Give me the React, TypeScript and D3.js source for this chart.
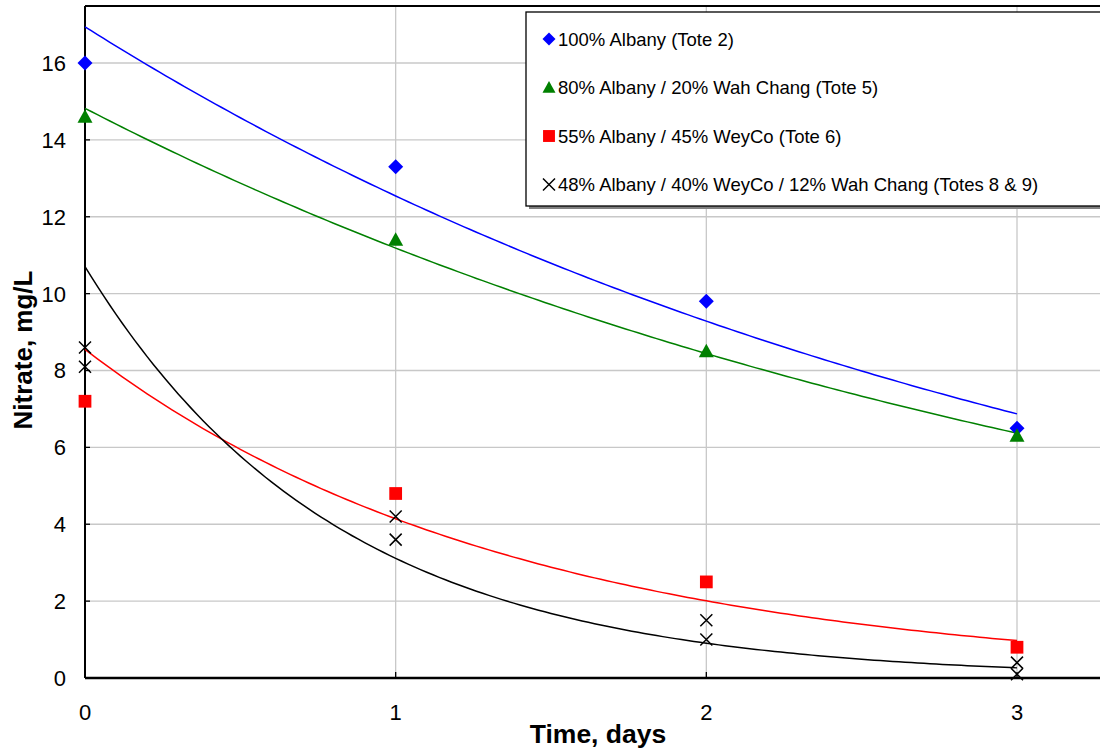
import React from "react";
import * as d3 from "d3";

const days = [0, 1, 2, 3];
const tote2 = [16.0, 13.3, 9.8, 6.5];
const tote5 = [14.6, 11.4, 8.5, 6.3];
const tote6 = [7.2, 4.8, 2.5, 0.8];
const totes89X = [0, 0, 1, 1, 2, 2, 3, 3];
const totes89 = [8.6, 8.1, 4.2, 3.6, 1.5, 1.0, 0.4, 0.1];
const yTicks = [0, 2, 4, 6, 8, 10, 12, 14, 16];
const xTicks = [0, 1, 2, 3];
const labels = [
  "100% Albany (Tote 2)",
  "80% Albany / 20% Wah Chang (Tote 5)",
  "55% Albany / 45% WeyCo (Tote 6)",
  "48% Albany / 40% WeyCo / 12% Wah Chang (Totes 8 & 9)",
];

function expFit(xs: number[], ys: number[]) {
  const ly = ys.map((v) => Math.log(v));
  const mx = d3.mean(xs)!;
  const my = d3.mean(ly)!;
  let num = 0, den = 0;
  xs.forEach((x, i) => {
    num += (x - mx) * (ly[i] - my);
    den += (x - mx) * (x - mx);
  });
  const b = num / den;
  const a = Math.exp(my - b * mx);
  return (x: number) => a * Math.exp(b * x);
}

export default function App() {
  const W = 1100, H = 751;
  const left = 85, right = 1100, top = 6, bottom = 678;
  const pxPerDay = (1017 - 85) / 3;
  const pxPerUnit = (678 - 63) / 16;
  const x = d3.scaleLinear().domain([0, (right - left) / pxPerDay]).range([left, right]);
  const y = d3.scaleLinear().domain([0, (bottom - top) / pxPerUnit]).range([bottom, top]);

  const series = [
    { xs: days, ys: tote2, color: "#0000ff", shape: "diamond" },
    { xs: days, ys: tote5, color: "#008000", shape: "triangle" },
    { xs: days, ys: tote6, color: "#ff0000", shape: "square" },
    { xs: totes89X, ys: totes89, color: "#000000", shape: "x" },
  ];

  const curvePts = d3.range(0, 3.0001, 0.02);
  const line = d3.line<[number, number]>().x((d) => x(d[0])).y((d) => y(d[1]));

  const marker = (shape: string, cx: number, cy: number, color: string, s: number, key: string) => {
    if (shape === "diamond")
      return <path key={key} d={`M${cx},${cy - s}L${cx + s},${cy}L${cx},${cy + s}L${cx - s},${cy}Z`} fill={color} />;
    if (shape === "triangle")
      return <path key={key} d={`M${cx},${cy - s}L${cx + s},${cy + s * 0.8}L${cx - s},${cy + s * 0.8}Z`} fill={color} />;
    if (shape === "square")
      return <rect key={key} x={cx - s * 0.85} y={cy - s * 0.85} width={s * 1.7} height={s * 1.7} fill={color} />;
    return (
      <path key={key} d={`M${cx - s},${cy - s}L${cx + s},${cy + s}M${cx - s},${cy + s}L${cx + s},${cy - s}`} stroke={color} strokeWidth={1.5} fill="none" />
    );
  };

  const font = "Arial, 'Liberation Sans', sans-serif";

  return (
    <svg width={W} height={H} style={{ position: "absolute", left: 0, top: 0, background: "#fff" }} fontFamily={font}>
      {/* gridlines */}
      {yTicks.filter((t) => t > 0).map((t) => (
        <line key={"gy" + t} x1={left} x2={right} y1={y(t)} y2={y(t)} stroke="#c8c8c8" strokeWidth={1.3} />
      ))}
      {xTicks.filter((t) => t > 0).map((t) => (
        <line key={"gx" + t} x1={x(t)} x2={x(t)} y1={top} y2={bottom} stroke="#c8c8c8" strokeWidth={1.3} />
      ))}
      {/* frame */}
      <line x1={left} x2={right} y1={top} y2={top} stroke="#000" strokeWidth={2} />
      <line x1={left} x2={left} y1={top} y2={bottom} stroke="#000" strokeWidth={2} />
      <line x1={left} x2={right} y1={bottom} y2={bottom} stroke="#000" strokeWidth={2.5} />
      {/* ticks */}
      {yTicks.map((t) => (
        <line key={"ty" + t} x1={left} x2={left + 5} y1={y(t)} y2={y(t)} stroke="#000" strokeWidth={1.3} />
      ))}
      {xTicks.map((t) => (
        <line key={"tx" + t} x1={x(t)} x2={x(t)} y1={bottom} y2={bottom - 6} stroke="#000" strokeWidth={1.3} />
      ))}
      {yTicks.map((t) => (
        <text key={"ly" + t} x={66} y={y(t)} dy="0.36em" textAnchor="end" fontSize={22}>{t}</text>
      ))}
      {xTicks.map((t) => (
        <text key={"lx" + t} x={x(t)} y={720} textAnchor="middle" fontSize={22}>{t}</text>
      ))}
      <text x={598} y={743} textAnchor="middle" fontSize={26.5} fontWeight="bold">Time, days</text>
      <text transform={`translate(32,350) rotate(-90)`} textAnchor="middle" fontSize={26} fontWeight="bold">Nitrate, mg/L</text>

      {/* trendlines */}
      {series.map((s, i) => {
        const f = expFit(s.xs, s.ys);
        return (
          <path key={"tr" + i} d={line(curvePts.map((p) => [p, f(p)] as [number, number]))!} fill="none" stroke={s.color} strokeWidth={1.5} />
        );
      })}
      {/* markers */}
      {series.map((s, i) =>
        s.xs.map((xv, j) => marker(s.shape, x(xv), y(s.ys[j]), s.color, s.shape === "x" ? 6 : 7.5, `m${i}-${j}`))
      )}

      {/* legend */}
      <rect x={529} y={15} width={580} height={194} fill="#808080" />
      <rect x={526} y={12} width={580} height={194} fill="#fff" stroke="#000" strokeWidth={1.3} />
      {series.map((s, i) => {
        const ly = 39 + i * 48.5;
        return (
          <g key={"lg" + i}>
            {marker(s.shape, 549, ly, s.color, s.shape === "x" ? 6 : s.shape === "square" ? 7 : 6.5, "lm" + i)}
            <text x={558} y={ly} dy="0.36em" fontSize={18.5}>{labels[i]}</text>
          </g>
        );
      })}
    </svg>
  );
}
